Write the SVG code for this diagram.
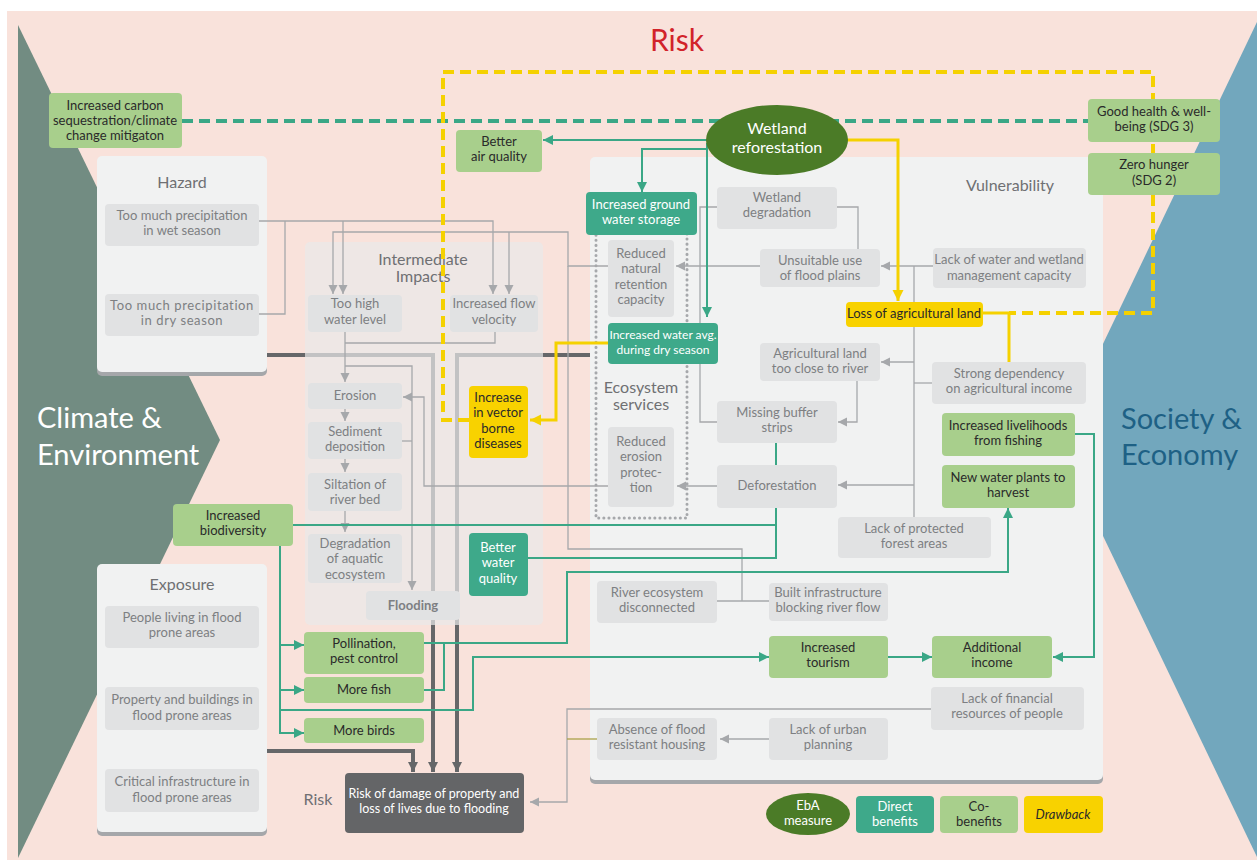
<svg xmlns="http://www.w3.org/2000/svg" width="1257" height="864" viewBox="0 0 1257 864">
<defs>
<style>
text{font-family:Lato,"Open Sans","Liberation Sans",sans-serif;font-size:13px;text-anchor:middle}
.gb{fill:#e1e2e3}
.gt{fill:#7d7f82}
.cb{fill:#a8cf8c}
.ct{fill:#2a2a2a}
.db{fill:#3ea98a}
.wt{fill:#fff}
.yb{fill:#f8d200}
.panel{fill:#f1f2f2}
.shadow{fill:#a5a7aa}
.title{fill:#6f7073;font-size:16px}
.ln{fill:none;stroke:#a6a8ab;stroke-width:1.3}
.tl{fill:none;stroke:#3aa786;stroke-width:2}
.yl{fill:none;stroke:#f5d100;stroke-width:3}
.dash{stroke-width:4;stroke-dasharray:11 6}
.thick{fill:none;stroke:#666769;stroke-width:4}
.big{font-size:29px;text-anchor:start}
</style>
<marker id="ag" viewBox="0 0 10 10" refX="10" refY="5" markerWidth="9" markerHeight="10" markerUnits="userSpaceOnUse" orient="auto"><path d="M0,0 L10,5 L0,10 z" fill="#a6a8ab"/></marker>
<marker id="at" viewBox="0 0 10 10" refX="10" refY="5" markerWidth="10" markerHeight="12" markerUnits="userSpaceOnUse" orient="auto"><path d="M0,0 L10,5 L0,10 z" fill="#3aa786"/></marker>
<marker id="ay" viewBox="0 0 10 10" refX="10" refY="5" markerWidth="11" markerHeight="17" markerUnits="userSpaceOnUse" orient="auto"><path d="M0,0 L10,5 L0,10 z" fill="#f5d100"/></marker>
<marker id="ad" viewBox="0 0 10 10" refX="10" refY="5" markerWidth="10" markerHeight="16" markerUnits="userSpaceOnUse" orient="auto"><path d="M0,0 L10,5 L0,10 z" fill="#666769"/></marker>
</defs>

<!-- background -->
<rect x="0" y="0" width="1257" height="864" fill="#ffffff"/>
<rect x="7" y="11" width="1250" height="849" fill="#f9e2db"/>
<polygon points="18,25 220,440 18,858" fill="#728c82"/>
<polygon points="1257,22 1057,440 1257,857" fill="#72a7bd"/>

<g id="labels">
<text x="677" y="51" style="font-size:30px;fill:#d2232a">Risk</text>
<text class="big" x="37" y="428" fill="#ffffff">Climate &amp;</text>
<text class="big" x="37" y="465" fill="#ffffff">Environment</text>
<text class="big" x="1121" y="429" fill="#1e6185">Society &amp;</text>
<text class="big" x="1121" y="465" fill="#1e6185">Economy</text>
</g>

<!-- thick risk pathways -->
<g id="risk-pathways">
<path class="thick" d="M267,355 H433 V772" marker-end="url(#ad)"/>
<path class="thick" d="M597,355 H457 V772" marker-end="url(#ad)"/>
<path class="thick" d="M267,751 H413 V772" marker-end="url(#ad)"/>
</g>

<!-- panels -->
<g id="hazard">
<rect class="shadow" x="97" y="160" width="170" height="216" rx="5"/>
<rect class="panel" x="97" y="156" width="170" height="216" rx="5"/>
<text class="title" x="182" y="188">Hazard</text>
</g>
<g id="exposure">
<rect class="shadow" x="97" y="568" width="170" height="268" rx="5"/>
<rect class="panel" x="97" y="564" width="170" height="268" rx="5"/>
<text class="title" x="182" y="590">Exposure</text>
</g>
<g id="vulnerability">
<rect class="shadow" x="590" y="161" width="513" height="623" rx="5"/>
<rect class="panel" x="590" y="157" width="513" height="623" rx="5"/>
<text class="title" x="1010" y="191">Vulnerability</text>
</g>
<g id="intermediate-impacts">
<rect x="305" y="242" width="238" height="383" rx="5" fill="#e9e9ea" fill-opacity="0.7"/>
<text class="title" x="423" y="265">Intermediate</text>
<text class="title" x="423" y="282">Impacts</text>
</g>
<g id="ecosystem-services">
<rect x="596" y="228" width="91" height="290" fill="none" stroke="#a6a8ab" stroke-width="3" stroke-linecap="round" stroke-dasharray="0.1 5"/>
<text class="title" x="641" y="393">Ecosystem</text>
<text class="title" x="641" y="410">services</text>
</g>

<!-- connectors -->
<g id="connectors">
<path class="ln" d="M259,221 H493 V294" marker-end="url(#ag)"/>
<path class="ln" d="M343,221 V294" marker-end="url(#ag)"/>
<path class="ln" d="M259,314 H285 V221"/>
<path class="ln" d="M608,266 H568 V232 H333 V294" marker-end="url(#ag)"/>
<path class="ln" d="M509,232 V294" marker-end="url(#ag)"/>
<path class="ln" d="M345,332 V382" marker-end="url(#ag)"/>
<path class="ln" d="M495,332 V343 H345"/>
<path class="ln" d="M345,366 H412 V590" marker-end="url(#ag)"/>
<path class="ln" d="M402,441 H412"/>
<path class="ln" d="M345,409 V421" marker-end="url(#ag)"/>
<path class="ln" d="M345,459 V472" marker-end="url(#ag)"/>
<path class="ln" d="M345,511 V532" marker-end="url(#ag)"/>
<path class="ln" d="M608,486 H424 V397 H403" marker-end="url(#ag)"/>
<path class="ln" d="M760,266 H676" marker-end="url(#ag)"/>
<path class="ln" d="M717,207 H700 V422 H717"/>
<path class="ln" d="M837,207 H858 V249"/>
<path class="ln" d="M933,266 H881" marker-end="url(#ag)"/>
<path class="ln" d="M914,266 V517"/>
<path class="ln" d="M914,362 H881" marker-end="url(#ag)"/>
<path class="ln" d="M932,383 H914"/>
<path class="ln" d="M914,485 H838" marker-end="url(#ag)"/>
<path class="ln" d="M857,381 V422 H838" marker-end="url(#ag)"/>
<path class="ln" d="M717,486 H677" marker-end="url(#ag)"/>
<path class="ln" d="M568,266 V549 H742 V601"/>
<path class="ln" d="M717,601 H769"/>
<path class="ln" d="M931,709 H567 V802 H530" marker-end="url(#ag)"/>
<path class="ln" d="M597,739 H567" style="stroke:#aaa14a"/>
<path class="ln" d="M769,739 H720" marker-end="url(#ag)"/>

<path class="tl dash" d="M182,121 H1088"/>
<path class="tl" d="M708,140 H543" marker-end="url(#at)"/>
<path class="tl" d="M707,149 H642 V192" marker-end="url(#at)"/>
<path class="tl" d="M707,143 V317" marker-end="url(#at)"/>
<path class="tl" d="M776,443 V465"/>
<path class="tl" d="M776,508 V558 H528"/>
<path class="tl" d="M776,525 H293"/>
<path class="tl" d="M280,546 V733 H304" marker-end="url(#at)"/>
<path class="tl" d="M280,645 H304" marker-end="url(#at)"/>
<path class="tl" d="M280,690 H304" marker-end="url(#at)"/>
<path class="tl" d="M280,710 H473 V657 H769" marker-end="url(#at)"/>
<path class="tl" d="M424,643 H567 V572 H1008 V508" marker-end="url(#at)"/>
<path class="tl" d="M424,690 H444 V643"/>
<path class="tl" d="M888,657 H932" marker-end="url(#at)"/>
<path class="tl" d="M1075,434 H1094 V657 H1053" marker-end="url(#at)"/>

<path class="yl dash" d="M469,420 H443 V72 H1153 V313 H1009"/>
<path class="yl" d="M983,313 H1009 V362"/>
<path class="yl" d="M846,140 H898 V301" marker-end="url(#ay)"/>
<path class="yl" d="M608,343 H556 V420 H530" marker-end="url(#ay)"/>
</g>

<!-- nodes -->
<g id="carbon"><rect class="cb" x="49" y="93" width="133" height="55" rx="4"/><text class="ct" x="115" y="110">Increased carbon</text><text class="ct" x="115" y="125">sequestration/climate</text><text class="ct" x="115" y="140">change mitigaton</text></g>
<g id="air"><rect class="cb" x="456" y="130" width="86" height="42" rx="4"/><text class="ct" x="499" y="146">Better</text><text class="ct" x="499" y="161">air quality</text></g>
<g id="wetland-reforestation"><ellipse cx="777" cy="140" rx="71" ry="35" fill="#4b7b27"/><text x="777" y="134" style="font-size:16px;fill:#fff">Wetland</text><text x="777" y="153" style="font-size:16px;fill:#fff">reforestation</text></g>
<g id="sdg3"><rect class="cb" x="1088" y="99" width="132" height="43" rx="4"/><text class="ct" x="1154" y="116">Good health &amp; well-</text><text class="ct" x="1154" y="131">being (SDG 3)</text></g>
<g id="sdg2"><rect class="cb" x="1088" y="153" width="132" height="42" rx="4"/><text class="ct" x="1154" y="169">Zero hunger</text><text class="ct" x="1154" y="185">(SDG 2)</text></g>

<g id="wet-season"><rect class="gb" x="105" y="204" width="154" height="42" rx="4"/><text class="gt" x="182" y="220">Too much precipitation</text><text class="gt" x="182" y="235">in wet season</text></g>
<g id="dry-season"><rect class="gb" x="105" y="294" width="154" height="42" rx="4"/><text class="gt" x="182" y="310" letter-spacing="0.6">Too much precipitation</text><text class="gt" x="182" y="325" letter-spacing="0.6">in dry season</text></g>

<g id="too-high"><rect class="gb" x="308" y="295" width="94" height="37" rx="4"/><text class="gt" x="355" y="308">Too high</text><text class="gt" x="355" y="324">water level</text></g>
<g id="flow-velocity"><rect class="gb" x="450" y="295" width="88" height="37" rx="4"/><text class="gt" x="494" y="308">Increased flow</text><text class="gt" x="494" y="324">velocity</text></g>
<g id="erosion"><rect class="gb" x="308" y="383" width="94" height="26" rx="4"/><text class="gt" x="355" y="400">Erosion</text></g>
<g id="sediment"><rect class="gb" x="308" y="422" width="94" height="37" rx="4"/><text class="gt" x="355" y="436">Sediment</text><text class="gt" x="355" y="451">deposition</text></g>
<g id="siltation"><rect class="gb" x="308" y="473" width="94" height="38" rx="4"/><text class="gt" x="355" y="489">Siltation of</text><text class="gt" x="355" y="504">river bed</text></g>
<g id="aquatic"><rect class="gb" x="308" y="534" width="94" height="49" rx="4"/><text class="gt" x="355" y="548">Degradation</text><text class="gt" x="355" y="563">of aquatic</text><text class="gt" x="355" y="579">ecosystem</text></g>
<g id="flooding"><rect class="gb" x="366" y="591" width="94" height="29" rx="4"/><text class="gt" x="413" y="610" font-weight="bold">Flooding</text></g>
<g id="vector"><rect class="yb" x="469" y="386" width="59" height="72" rx="4"/><text class="ct" x="498" y="402">Increase</text><text class="ct" x="498" y="417">in vector</text><text class="ct" x="498" y="433">borne</text><text class="ct" x="498" y="448">diseases</text></g>
<g id="water-quality"><rect class="db" x="469" y="533" width="59" height="63" rx="4"/><text class="wt" x="498" y="552">Better</text><text class="wt" x="498" y="567">water</text><text class="wt" x="498" y="583">quality</text></g>

<g id="groundwater"><rect class="db" x="586" y="192" width="111" height="43" rx="4"/><text class="wt" x="641" y="209">Increased ground</text><text class="wt" x="641" y="224">water storage</text></g>
<g id="retention"><rect class="gb" x="608" y="240" width="66" height="77" rx="4"/><text class="gt" x="641" y="258">Reduced</text><text class="gt" x="641" y="273">natural</text><text class="gt" x="641" y="289">retention</text><text class="gt" x="641" y="304">capacity</text></g>
<g id="water-avg"><rect class="db" x="608" y="323" width="110" height="41" rx="4"/><text class="wt" x="663" y="339" style="font-size:12px">Increased water avg.</text><text class="wt" x="663" y="354" style="font-size:12px">during dry season</text></g>
<g id="erosion-protection"><rect class="gb" x="608" y="427" width="66" height="80" rx="4"/><text class="gt" x="641" y="446">Reduced</text><text class="gt" x="641" y="461">erosion</text><text class="gt" x="641" y="477">protec-</text><text class="gt" x="641" y="492">tion</text></g>

<g id="wetland-degradation"><rect class="gb" x="717" y="187" width="120" height="42" rx="4"/><text class="gt" x="777" y="202">Wetland</text><text class="gt" x="777" y="217">degradation</text></g>
<g id="flood-plains"><rect class="gb" x="760" y="249" width="120" height="38" rx="4"/><text class="gt" x="820" y="265">Unsuitable use</text><text class="gt" x="820" y="280">of flood plains</text></g>
<g id="management"><rect class="gb" x="933" y="248" width="153" height="40" rx="4"/><text class="gt" x="1009" y="264">Lack of water and wetland</text><text class="gt" x="1009" y="280">management capacity</text></g>
<g id="loss-land"><rect class="yb" x="846" y="302" width="137" height="25" rx="4"/><text class="ct" x="914" y="318">Loss of agricultural land</text></g>
<g id="too-close"><rect class="gb" x="760" y="343" width="120" height="38" rx="4"/><text class="gt" x="820" y="358">Agricultural land</text><text class="gt" x="820" y="373">too close to river</text></g>
<g id="dependency"><rect class="gb" x="932" y="362" width="154" height="42" rx="4"/><text class="gt" x="1009" y="378">Strong dependency</text><text class="gt" x="1009" y="393">on agricultural income</text></g>
<g id="buffer"><rect class="gb" x="717" y="401" width="120" height="42" rx="4"/><text class="gt" x="777" y="417">Missing buffer</text><text class="gt" x="777" y="432">strips</text></g>
<g id="deforestation"><rect class="gb" x="717" y="465" width="120" height="43" rx="4"/><text class="gt" x="777" y="490">Deforestation</text></g>
<g id="livelihoods"><rect class="cb" x="942" y="413" width="133" height="43" rx="4"/><text class="ct" x="1008" y="430">Increased livelihoods</text><text class="ct" x="1008" y="445">from fishing</text></g>
<g id="water-plants"><rect class="cb" x="942" y="465" width="133" height="43" rx="4"/><text class="ct" x="1008" y="482">New water plants to</text><text class="ct" x="1008" y="497">harvest</text></g>
<g id="protected-forest"><rect class="gb" x="838" y="517" width="153" height="41" rx="4"/><text class="gt" x="914" y="533">Lack of protected</text><text class="gt" x="914" y="548">forest areas</text></g>
<g id="river-disconnected"><rect class="gb" x="597" y="581" width="120" height="42" rx="4"/><text class="gt" x="657" y="597">River ecosystem</text><text class="gt" x="657" y="612">disconnected</text></g>
<g id="built-infrastructure"><rect class="gb" x="769" y="583" width="119" height="38" rx="4"/><text class="gt" x="828" y="597">Built infrastructure</text><text class="gt" x="828" y="612">blocking river flow</text></g>
<g id="tourism"><rect class="cb" x="769" y="636" width="119" height="42" rx="4"/><text class="ct" x="828" y="652">Increased</text><text class="ct" x="828" y="667">tourism</text></g>
<g id="income"><rect class="cb" x="932" y="636" width="120" height="42" rx="4"/><text class="ct" x="992" y="652">Additional</text><text class="ct" x="992" y="667">income</text></g>
<g id="financial"><rect class="gb" x="931" y="687" width="153" height="43" rx="4"/><text class="gt" x="1007" y="703">Lack of financial</text><text class="gt" x="1007" y="718">resources of people</text></g>
<g id="housing"><rect class="gb" x="597" y="718" width="120" height="42" rx="4"/><text class="gt" x="657" y="734">Absence of flood</text><text class="gt" x="657" y="749">resistant housing</text></g>
<g id="urban-planning"><rect class="gb" x="769" y="718" width="119" height="42" rx="4"/><text class="gt" x="828" y="734">Lack of urban</text><text class="gt" x="828" y="749">planning</text></g>

<g id="biodiversity"><rect class="cb" x="173" y="504" width="120" height="42" rx="4"/><text class="ct" x="233" y="520">Increased</text><text class="ct" x="233" y="535">biodiversity</text></g>
<g id="pollination"><rect class="cb" x="304" y="632" width="120" height="42" rx="4"/><text class="ct" x="364" y="648">Pollination,</text><text class="ct" x="364" y="663">pest control</text></g>
<g id="more-fish"><rect class="cb" x="304" y="677" width="120" height="26" rx="4"/><text class="ct" x="364" y="694">More fish</text></g>
<g id="more-birds"><rect class="cb" x="304" y="718" width="120" height="25" rx="4"/><text class="ct" x="364" y="735">More birds</text></g>

<g id="people"><rect class="gb" x="105" y="606" width="154" height="42" rx="4"/><text class="gt" x="182" y="622">People living in flood</text><text class="gt" x="182" y="637">prone areas</text></g>
<g id="property"><rect class="gb" x="105" y="687" width="154" height="43" rx="4"/><text class="gt" x="182" y="704">Property and buildings in</text><text class="gt" x="182" y="720">flood prone areas</text></g>
<g id="infrastructure"><rect class="gb" x="105" y="769" width="154" height="43" rx="4"/><text class="gt" x="182" y="786">Critical infrastructure in</text><text class="gt" x="182" y="802">flood prone areas</text></g>

<g id="risk"><text class="title" x="318" y="805">Risk</text><rect x="345" y="773" width="179" height="60" rx="4" fill="#646567"/><text class="wt" x="434" y="798" style="font-size:12.5px">Risk of damage of property and</text><text class="wt" x="434" y="813" style="font-size:12.5px">loss of lives due to flooding</text></g>

<g id="legend">
<ellipse cx="808" cy="814" rx="42" ry="21" fill="#4b7b27"/><text class="wt" x="808" y="810">EbA</text><text class="wt" x="808" y="825">measure</text>
<rect class="db" x="856" y="796" width="78" height="37" rx="4"/><text class="wt" x="895" y="811">Direct</text><text class="wt" x="895" y="826">benefits</text>
<rect class="cb" x="940" y="796" width="78" height="37" rx="4"/><text class="ct" x="979" y="811">Co-</text><text class="ct" x="979" y="826">benefits</text>
<rect class="yb" x="1024" y="796" width="79" height="37" rx="4"/><text class="ct" x="1063" y="819" font-style="italic">Drawback</text>
</g>
</svg>
